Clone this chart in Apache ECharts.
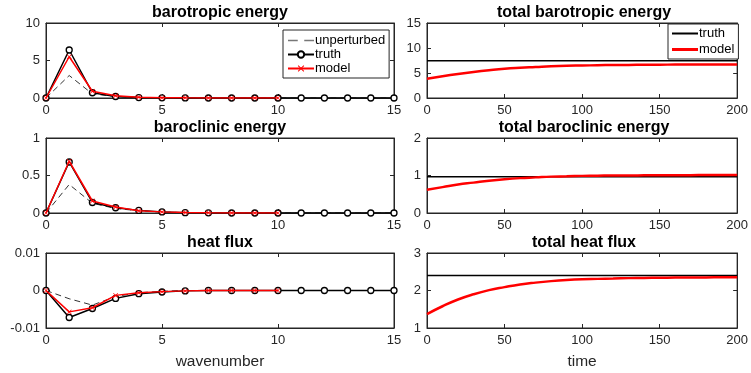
<!DOCTYPE html>
<html>
<head>
<meta charset="utf-8">
<script src="https://cdn.jsdelivr.net/npm/echarts@6/dist/echarts.min.js"></script>
<style>
  html, body { margin: 0; padding: 0; background: #fff; }
  #chart { width: 751px; height: 373px; }
</style>
</head>
<body>
<div id="chart"></div>
<script>
// wavenumber spectra (left column)
const wavenumber = [0, 1, 2, 3, 4, 5, 6, 7, 8, 9, 10, 11, 12, 13, 14, 15];

const btUnperturbed = [0, 3.0, 0.55, 0.2, 0.06, 0.02, 0, 0, 0, 0, 0, 0, 0, 0, 0, 0];
const btTruth = [0, 6.4, 0.7, 0.2, 0.06, 0.02, 0.01, 0, 0, 0, 0, 0, 0, 0, 0, 0];
const btModel = [0, 5.5, 0.9, 0.3, 0.1, 0.04, 0.02, 0.01, 0, 0, 0];

const bcUnperturbed = [0, 0.38, 0.13, 0.06, 0.03, 0.012, 0.005, 0, 0, 0, 0, 0, 0, 0, 0, 0];
const bcTruth = [0, 0.68, 0.14, 0.07, 0.035, 0.015, 0.005, 0.002, 0, 0, 0, 0, 0, 0, 0, 0];
const bcModel = [0, 0.69, 0.16, 0.08, 0.03, 0.015, 0.006, 0.002, 0.001, 0, 0];

const hfUnperturbed = [0, -0.0022, -0.0039, -0.0016, -0.0006, -0.0002, 0, 0, 0, 0, 0, 0, 0, 0, 0, 0];
const hfTruth = [0, -0.0072, -0.0048, -0.0021, -0.00085, -0.0004, -0.0001, 0, 0, 0, 0, 0, 0, 0, 0, 0];
const hfModel = [0, -0.0057, -0.0046, -0.0013, -0.0006, -0.0003, -0.0001, 0, 0, 0, 0];

// time series (right column)
const time = [0, 10, 20, 30, 40, 50, 60, 70, 80, 90, 100, 110, 120, 130, 140, 150, 160, 170, 180, 190, 200];
const totBtModel = [3.85, 4.35, 4.8, 5.2, 5.55, 5.85, 6.05, 6.2, 6.35, 6.45, 6.5, 6.55, 6.6, 6.62, 6.65, 6.67, 6.68, 6.7, 6.7, 6.72, 6.72];
const totBcModel = [0.62, 0.69, 0.76, 0.81, 0.86, 0.9, 0.93, 0.95, 0.97, 0.98, 0.99, 0.995, 1.0, 1.0, 1.005, 1.01, 1.01, 1.01, 1.015, 1.015, 1.015];
const totHfModel = [1.37, 1.58, 1.76, 1.9, 2.01, 2.09, 2.16, 2.21, 2.25, 2.28, 2.3, 2.31, 2.32, 2.33, 2.335, 2.34, 2.345, 2.35, 2.35, 2.355, 2.355];
const totBtTruth = 7.43;
const totBcTruth = 0.97;
const totHfTruth = 2.4;

const titles = ['barotropic energy', 'total barotropic energy', 'baroclinic energy',
  'total baroclinic energy', 'heat flux', 'total heat flux'];

const axisCol = '#262626';
const font = 'Liberation Sans, Arial, sans-serif';
const crossPath = 'path://M0,1L1,0L5,4L9,0L10,1L6,5L10,9L9,10L5,6L1,10L0,9L4,5Z';

// legend icons (MATLAB style: line samples)
const iconDash = 'path://M0,0H9V1.6H0ZM15,0H24V1.6H15Z';
const iconLine = 'path://M0,0H26V2H0Z';
const iconLineThick = 'path://M0,0H26V3H0Z';

const tops = [23, 138, 253];
const h = 75;
const grids = [];
tops.forEach(t => {
  grids.push({ left: 46, right: 357, top: t, height: h, show: true, borderColor: axisCol, borderWidth: 1 });
  grids.push({ left: 427, right: 10, top: t, height: h, show: true, borderColor: axisCol, borderWidth: 1 });
});

const xAxes = [], yAxes = [];
const xr = [[0, 15, 5], [0, 200, 50]];
const yr = [[0, 10, 5], [0, 15, 5], [0, 1, 0.5], [0, 2, 1], [-0.01, 0.01, 0.01], [1, 3, 1]];

grids.forEach((g, i) => {
  const col = i % 2;
  const last = i >= 4;
  const [xmin, xmax, xint] = xr[col];
  const [ymin, ymax, yint] = yr[i];
  const base = {
    gridIndex: i, type: 'value', splitLine: { show: false },
    axisLine: { onZero: false, lineStyle: { color: axisCol } },
    axisTick: { inside: true, length: 4, lineStyle: { color: axisCol } }
  };
  xAxes.push(Object.assign({}, base, {
    min: xmin, max: xmax, interval: xint,
    axisLabel: { color: axisCol, fontSize: 13, fontFamily: font, margin: 6 },
    name: last ? (col === 0 ? 'wavenumber' : 'time') : '',
    nameLocation: 'middle', nameGap: 26,
    nameTextStyle: { color: axisCol, fontSize: 15.5, fontFamily: font }
  }));
  xAxes.push(Object.assign({}, base, {
    position: 'top', min: xmin, max: xmax, interval: xint, axisLabel: { show: false }
  }));
  yAxes.push(Object.assign({}, base, {
    min: ymin, max: ymax, interval: yint,
    axisLabel: { color: axisCol, fontSize: 13, fontFamily: font, margin: 6 }
  }));
  yAxes.push(Object.assign({}, base, {
    position: 'right', min: ymin, max: ymax, interval: yint, axisLabel: { show: false }
  }));
});

function pairs(xs, ys) {
  return ys.map((v, k) => [xs[k], v]);
}

function specSeries(i, unp, tru, mod) {
  return [
    { name: 'unperturbed', type: 'line', xAxisIndex: 2 * i, yAxisIndex: 2 * i, data: pairs(wavenumber, unp),
      showSymbol: false, symbol: 'none', lineStyle: { color: '#333', width: 1, type: [6, 4] }, itemStyle: { color: '#333' },
      animation: false, z: 2 },
    { name: 'truth', type: 'line', xAxisIndex: 2 * i, yAxisIndex: 2 * i, data: pairs(wavenumber, tru),
      symbol: 'circle', symbolSize: 6, lineStyle: { color: '#000', width: 1.5 },
      itemStyle: { color: '#fff', borderColor: '#000', borderWidth: 1.3 }, animation: false, z: 3 },
    { name: 'model', type: 'line', xAxisIndex: 2 * i, yAxisIndex: 2 * i, data: pairs(wavenumber, mod),
      symbol: crossPath, symbolSize: 5, lineStyle: { color: '#f00', width: 1.5 },
      itemStyle: { color: '#f00' }, animation: false, z: 4 }
  ];
}

function totalSeries(i, truthVal, mod) {
  return [
    { name: 'truth ', type: 'line', xAxisIndex: 2 * i, yAxisIndex: 2 * i, data: [[0, truthVal], [200, truthVal]],
      symbol: 'none', lineStyle: { color: '#000', width: 1.5 }, itemStyle: { color: '#000' }, animation: false, z: 3 },
    { name: 'model ', type: 'line', xAxisIndex: 2 * i, yAxisIndex: 2 * i, data: pairs(time, mod),
      symbol: 'none', smooth: true, lineStyle: { color: '#f00', width: 2.5 }, itemStyle: { color: '#f00' },
      animation: false, z: 4 }
  ];
}

const series = [].concat(
  specSeries(0, btUnperturbed, btTruth, btModel),
  totalSeries(1, totBtTruth, totBtModel),
  specSeries(2, bcUnperturbed, bcTruth, bcModel),
  totalSeries(3, totBcTruth, totBcModel),
  specSeries(4, hfUnperturbed, hfTruth, hfModel),
  totalSeries(5, totHfTruth, totHfModel)
);

const titleOpts = titles.map((t, i) => ({
  text: t,
  left: i % 2 === 0 ? 220 : 584,
  top: tops[Math.floor(i / 2)] - 18,
  textAlign: 'center',
  padding: 0,
  textStyle: { fontSize: 16, fontWeight: 'bold', color: '#000', fontFamily: font }
}));

const legendBase = {
  orient: 'vertical', itemWidth: 26, itemHeight: 8, itemGap: 1,
  backgroundColor: '#fff', borderColor: axisCol, borderWidth: 1, borderRadius: 0,
  textStyle: { fontSize: 13, fontFamily: font, color: '#000', padding: [0, 0, 0, -4] }
};

const chart = echarts.init(document.getElementById('chart'), null, { renderer: 'canvas' });
chart.setOption({
  backgroundColor: '#fff',
  animation: false,
  title: titleOpts,
  grid: grids,
  xAxis: xAxes,
  yAxis: yAxes,
  legend: [
    Object.assign({}, legendBase, {
      left: 283, top: 30, padding: [4, 4, 3, 4],
      data: [
        { name: 'unperturbed', icon: iconDash, itemStyle: { color: '#777' } },
        'truth',
        'model'
      ]
    }),
    Object.assign({}, legendBase, {
      left: 668, top: 24, padding: [3, 4, 3, 4], itemGap: 3,
      formatter: n => n.trim(),
      data: [
        { name: 'truth ', icon: iconLine, itemStyle: { color: '#000' } },
        { name: 'model ', icon: iconLineThick, itemStyle: { color: '#f00' } }
      ]
    })
  ],
  series: series
});
</script>
</body>
</html>
